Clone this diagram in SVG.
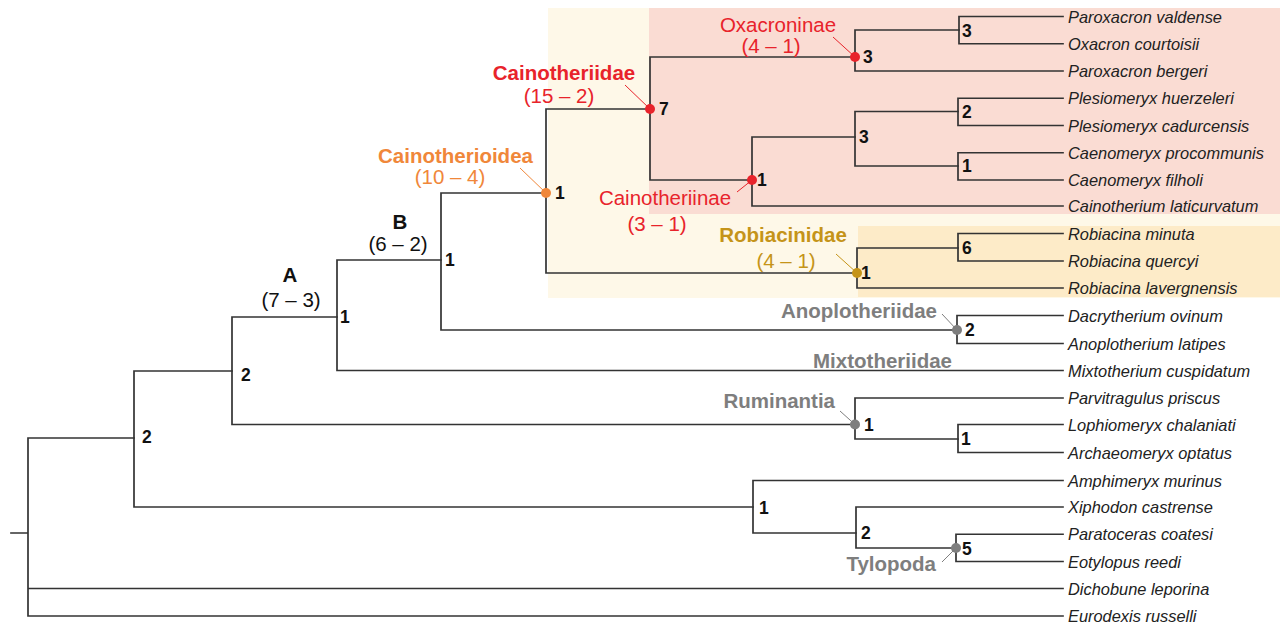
<svg xmlns="http://www.w3.org/2000/svg" width="1280" height="626" viewBox="0 0 1280 626">
<style>
.e{fill:none;stroke:#333;stroke-width:1.7;stroke-linecap:square}
.leaf{font-family:"Liberation Sans",Arial,sans-serif;font-style:italic;font-size:16.4px;fill:#222}
.num{font-family:"Liberation Sans",Arial,sans-serif;font-weight:bold;font-size:17.5px;fill:#111}
.lb{font-family:"Liberation Sans",Arial,sans-serif;font-size:20.5px}
.b{font-weight:bold}
.red{fill:#E8232B}.org{fill:#F0873A}.gld{fill:#C59419}.gry{fill:#7E7E7E}.blk{fill:#111}
.pr{stroke:#E8232B;stroke-width:1}.po{stroke:#F0873A;stroke-width:1}.pg{stroke:#C59419;stroke-width:1}.pk{stroke:#7E7E7E;stroke-width:1}
</style>
<rect width="1280" height="626" fill="#fff"/>
<g id="backgrounds">
<rect x="548" y="8" width="732" height="290" fill="#FEF8E8"/>
<rect x="649" y="8" width="631" height="206" fill="#FADCD3"/>
<rect x="858" y="226" width="422" height="71" fill="#FDEBC8"/>
</g>
<g id="connectors" class="e">
<path d="M28 438V616M11 533H28M28 438H134M28 588.5H1063M28 616H1063"/>
<path d="M134 371V507M134 371H232M134 507H753"/>
<path d="M232 317V424.5M232 317H337M232 424.5H855"/>
<path d="M337 260V370.5M337 260H441M337 370.5H1063"/>
<path d="M441 193V330M441 193H546M441 330H957"/>
<path d="M546 109V273M546 109H650M546 273H857"/>
<path d="M650 57V180M650 57H855M650 180H752"/>
<path d="M855 30V71M855 30H959M855 71H1063"/>
<path d="M959 16.5V43.75M959 16.5H1063M959 43.75H1063"/>
<path d="M752 137V206M752 137H855M752 206H1063"/>
<path d="M855 111.5V166M855 111.5H958M855 166H958"/>
<path d="M958 98.25V125.5M958 98.25H1063M958 125.5H1063"/>
<path d="M958 152.75V180M958 152.75H1063M958 180H1063"/>
<path d="M857 248V288M857 248H958M857 288H1063"/>
<path d="M958 233.5V261M958 233.5H1063M958 261H1063"/>
<path d="M957 315.5V343.5M957 315.5H1063M957 343.5H1063"/>
<path d="M855 398V439M855 398H1063M855 439H958"/>
<path d="M958 424.5V452.5M958 424.5H1063M958 452.5H1063"/>
<path d="M753 480.5V533M753 480.5H1063M753 533H856"/>
<path d="M856 507V548M856 507H1063M856 548H956"/>
<path d="M956 534.25V561.5M956 534.25H1063M956 561.5H1063"/>
</g>
<g id="leaves" class="leaf">
<text id="t01" x="1068" y="22.5">Paroxacron valdense</text>
<text id="t02" x="1068" y="49.5">Oxacron courtoisii</text>
<text id="t03" x="1068" y="77">Paroxacron bergeri</text>
<text id="t04" x="1068" y="104">Plesiomeryx huerzeleri</text>
<text id="t05" x="1068" y="131.5">Plesiomeryx cadurcensis</text>
<text id="t06" x="1068" y="158.5">Caenomeryx procommunis</text>
<text id="t07" x="1068" y="186">Caenomeryx filholi</text>
<text id="t08" x="1068" y="212">Cainotherium laticurvatum</text>
<text id="t09" x="1068" y="239.5">Robiacina minuta</text>
<text id="t10" x="1068" y="267">Robiacina quercyi</text>
<text id="t11" x="1068" y="294">Robiacina lavergnensis</text>
<text id="t12" x="1068" y="321.5">Dacrytherium ovinum</text>
<text id="t13" x="1068" y="349.5">Anoplotherium latipes</text>
<text id="t14" x="1068" y="376.5">Mixtotherium cuspidatum</text>
<text id="t15" x="1068" y="404">Parvitragulus priscus</text>
<text id="t16" x="1068" y="430.5">Lophiomeryx chalaniati</text>
<text id="t17" x="1068" y="458.5">Archaeomeryx optatus</text>
<text id="t18" x="1068" y="486.5">Amphimeryx murinus</text>
<text id="t19" x="1068" y="513">Xiphodon castrense</text>
<text id="t20" x="1068" y="540">Paratoceras coatesi</text>
<text id="t21" x="1068" y="567.5">Eotylopus reedi</text>
<text id="t22" x="1068" y="594.5">Dichobune leporina</text>
<text id="t23" x="1068" y="622">Eurodexis russelli</text>
</g>
<g id="n134"><text class="num" x="142" y="443">2</text></g>
<g id="n232"><text class="num" x="241" y="381">2</text></g>
<g id="nA">
<text class="num" x="340" y="323">1</text>
<text class="lb b blk" x="290" y="282" text-anchor="middle">A</text>
<text class="lb blk" x="291" y="307" text-anchor="middle">(7 – 3)</text>
</g>
<g id="nB">
<text class="num" x="445" y="266">1</text>
<text class="lb b blk" x="400" y="228.5" text-anchor="middle">B</text>
<text class="lb blk" x="398" y="251" text-anchor="middle">(6 – 2)</text>
</g>
<g id="nCainotherioidea">
<line class="po" x1="520" y1="168" x2="546" y2="193"/>
<circle cx="546" cy="193" r="5" class="org"/>
<text class="num" x="555" y="199">1</text>
<text class="lb b org" x="455.5" y="163" text-anchor="middle">Cainotherioidea</text>
<text class="lb org" x="450" y="184" text-anchor="middle">(10 – 4)</text>
</g>
<g id="nCainotheriidae">
<line class="pr" x1="625" y1="85" x2="650" y2="109"/>
<circle cx="650" cy="109" r="5" class="red"/>
<text class="num" x="659" y="115">7</text>
<text class="lb b red" x="564" y="80" text-anchor="middle">Cainotheriidae</text>
<text class="lb red" x="559" y="103" text-anchor="middle">(15 – 2)</text>
</g>
<g id="nOxacroninae">
<line class="pr" x1="833" y1="37" x2="855" y2="57"/>
<circle cx="855" cy="57" r="5" class="red"/>
<text class="num" x="863" y="63">3</text>
<text class="lb red" x="778" y="32" text-anchor="middle">Oxacroninae</text>
<text class="lb red" x="771" y="53" text-anchor="middle">(4 – 1)</text>
</g>
<g id="nOxacron"><text class="num" x="962" y="36.5">3</text></g>
<g id="nCainotheriinae">
<line class="pr" x1="737" y1="192" x2="752" y2="180"/>
<circle cx="752" cy="180" r="5" class="red"/>
<text class="num" x="757" y="186">1</text>
<text class="lb red" x="665" y="205" text-anchor="middle">Cainotheriinae</text>
<text class="lb red" x="657" y="231" text-anchor="middle">(3 – 1)</text>
</g>
<g id="nPC"><text class="num" x="859" y="143">3</text></g>
<g id="nPlesiomeryx"><text class="num" x="962" y="117.5">2</text></g>
<g id="nCaenomeryx"><text class="num" x="962" y="172">1</text></g>
<g id="nRobiacinidae">
<line class="pg" x1="836" y1="254" x2="857" y2="273"/>
<circle cx="857" cy="273" r="5" class="gld"/>
<text class="num" x="861" y="279">1</text>
<text class="lb b gld" x="783" y="242" text-anchor="middle">Robiacinidae</text>
<text class="lb gld" x="786" y="268" text-anchor="middle">(4 – 1)</text>
</g>
<g id="nRobiacina"><text class="num" x="962" y="254">6</text></g>
<g id="nAnoplotheriidae">
<line class="pk" x1="942" y1="314" x2="957" y2="330"/>
<circle cx="957" cy="330" r="5" class="gry"/>
<text class="num" x="965" y="336">2</text>
<text class="lb b gry" x="937" y="318" text-anchor="end">Anoplotheriidae</text>
</g>
<g id="nMixtotheriidae"><text class="lb b gry" x="952" y="368" text-anchor="end">Mixtotheriidae</text></g>
<g id="nRuminantia">
<line class="pk" x1="840" y1="411" x2="855" y2="424.5"/>
<circle cx="855" cy="424.5" r="5" class="gry"/>
<text class="num" x="864" y="430.5">1</text>
<text class="lb b gry" x="835" y="408" text-anchor="end">Ruminantia</text>
</g>
<g id="nLophiomeryx"><text class="num" x="961" y="445">1</text></g>
<g id="n753"><text class="num" x="759" y="514">1</text></g>
<g id="n856"><text class="num" x="861" y="538.5">2</text></g>
<g id="nTylopoda">
<line class="pk" x1="942" y1="562" x2="956" y2="548"/>
<circle cx="956" cy="548" r="5" class="gry"/>
<text class="num" x="962" y="555">5</text>
<text class="lb b gry" x="936" y="571" text-anchor="end">Tylopoda</text>
</g>
</svg>
